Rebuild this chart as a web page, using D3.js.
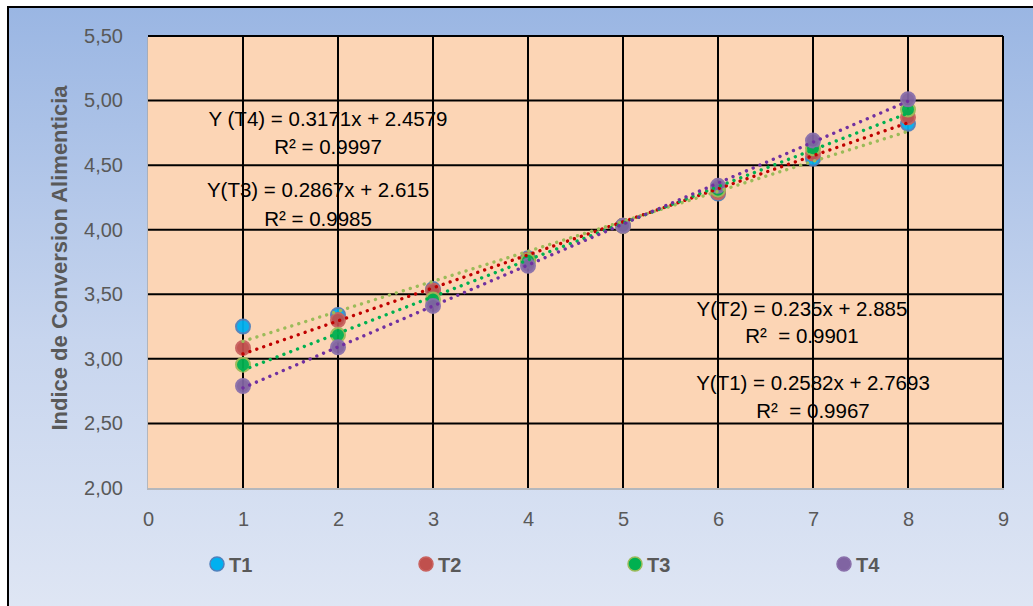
<!DOCTYPE html>
<html>
<head>
<meta charset="utf-8">
<script src="https://cdn.jsdelivr.net/npm/d3@7"></script>
<style>
  body { margin: 0; background: #fff; }
  svg { display: block; font-family: "Liberation Sans", Arial, sans-serif; }
  .eq { white-space: pre; }
</style>
</head>
<body>
<div id="chart"></div>
<script>
// data
const days = [1, 2, 3, 4, 5, 6, 7, 8];
const t1 = [3.25, 3.34, 3.54, 3.78, 4.03, 4.28, 4.55, 4.82];
const t2 = [3.085, 3.30, 3.53, 3.77, 4.03, 4.29, 4.59, 4.87];
const t3 = [2.955, 3.185, 3.46, 3.76, 4.03, 4.31, 4.63, 4.93];
const t4 = [2.79, 3.09, 3.41, 3.72, 4.03, 4.34, 4.69, 5.01];
const seriesNames = ["T1", "T2", "T3", "T4"];
const xTicks = [0, 1, 2, 3, 4, 5, 6, 7, 8, 9];
const yTicks = [2.0, 2.5, 3.0, 3.5, 4.0, 4.5, 5.0, 5.5];
const equations = [
    ["Y (T4) = 0.3171x + 2.4579", "R² = 0.9997"],
    ["Y(T3) = 0.2867x + 2.615", "R² = 0.9985"],
    ["Y(T2) = 0.235x + 2.885", "R²  = 0.9901"],
    ["Y(T1) = 0.2582x + 2.7693", "R²  = 0.9967"]
];

const W = 1033, H = 606;
const margin = {top: 36, right: 30, bottom: 118, left: 148};
const width = 1003 - margin.left;
const height = 488 - margin.top;

const colors = {
    T1: {fill: "#00B0F0", stroke: "#4F81BD", trend: "#9BBB59"},
    T2: {fill: "#C0504D", stroke: "#C9625F", trend: "#C00000"},
    T3: {fill: "#00B050", stroke: "#9BBB59", trend: "#00B050"},
    T4: {fill: "#8064A2", stroke: "#8A70AB", trend: "#7030A0"}
};

const root = d3.select("#chart").append("svg")
    .attr("width", W)
    .attr("height", H);

const defs = root.append("defs");
const grad = defs.append("linearGradient")
    .attr("id", "bg").attr("x1", 0).attr("y1", 0).attr("x2", 0).attr("y2", 1);
grad.append("stop").attr("offset", "0%").attr("stop-color", "#9AB6E3");
grad.append("stop").attr("offset", "55%").attr("stop-color", "#C7D5EE");
grad.append("stop").attr("offset", "100%").attr("stop-color", "#DFE6F4");

// chart area with black top/left border
root.append("rect")
    .attr("x", 8).attr("y", 7).attr("width", W).attr("height", H)
    .attr("fill", "url(#bg)")
    .attr("stroke", "#000").attr("stroke-width", 2);

const svg = root.append("g")
    .attr("transform", `translate(${margin.left}, ${margin.top})`);

const x = d3.scaleLinear().domain([0, 9]).range([0, width]);
const y = d3.scaleLinear().domain([2, 5.5]).range([height, 0]);

// plot area
svg.append("rect")
    .attr("x", -1).attr("y", 1).attr("width", width + 2).attr("height", height + 1)
    .attr("fill", "#A6A6A6").attr("opacity", 0.7);
svg.append("rect")
    .attr("width", width).attr("height", height)
    .attr("fill", "#FCD5B5");

// gridlines
svg.selectAll(".hgrid").data(yTicks.filter(d => d > 2))
    .enter().append("line")
    .attr("class", "hgrid")
    .attr("x1", 0).attr("x2", width)
    .attr("y1", d => y(d)).attr("y2", d => y(d))
    .attr("stroke", "#000").attr("stroke-width", 2);

svg.selectAll(".vgrid").data(xTicks.filter(d => d > 0))
    .enter().append("line")
    .attr("class", "vgrid")
    .attr("y1", 0).attr("y2", height)
    .attr("x1", d => x(d)).attr("x2", d => x(d))
    .attr("stroke", "#000").attr("stroke-width", 2);

// axes (labels only)
const fmt = d => d3.format(".2f")(d).replace(".", ",");
const yAxis = svg.append("g")
    .call(d3.axisLeft(y).tickValues(yTicks).tickFormat(fmt).tickSize(0).tickPadding(25));
const xAxis = svg.append("g")
    .attr("transform", `translate(0, ${height})`)
    .call(d3.axisBottom(x).tickValues(xTicks).tickSize(0).tickPadding(24));
[yAxis, xAxis].forEach(a => {
    a.select(".domain").remove();
    a.selectAll("text")
        .attr("font-family", "Liberation Sans, Arial, sans-serif")
        .attr("font-size", 20)
        .attr("fill", "#595959");
});

root.append("text")
    .attr("transform", "translate(67, 258) rotate(-90)")
    .attr("text-anchor", "middle")
    .attr("font-size", 22)
    .attr("font-weight", "bold")
    .attr("fill", "#595959")
    .text("Indice de Conversion Alimenticia");

const series = [t1, t2, t3, t4].map((vals, i) => ({
    name: seriesNames[i],
    points: days.map((d, j) => ({x: d, y: vals[j]}))
}));

// markers
series.forEach(s => {
    svg.selectAll(".pt-" + s.name).data(s.points)
        .enter().append("circle")
        .attr("class", "pt-" + s.name)
        .attr("cx", d => x(d.x))
        .attr("cy", d => y(d.y))
        .attr("r", 7)
        .attr("fill", colors[s.name].fill)
        .attr("stroke", colors[s.name].stroke)
        .attr("stroke-width", 2)
        .attr("opacity", 0.95);
});

// least squares trendlines
function fit(pts) {
    const mx = d3.mean(pts, p => p.x), my = d3.mean(pts, p => p.y);
    const b = d3.sum(pts, p => (p.x - mx) * (p.y - my)) / d3.sum(pts, p => (p.x - mx) ** 2);
    return {b: b, a: my - b * mx};
}
series.forEach(s => {
    const f = fit(s.points);
    const x0 = d3.min(days), x1 = d3.max(days);
    svg.append("line")
        .attr("x1", x(x0)).attr("y1", y(f.a + f.b * x0))
        .attr("x2", x(x1)).attr("y2", y(f.a + f.b * x1))
        .attr("stroke", colors[s.name].trend)
        .attr("stroke-width", 3.4)
        .attr("stroke-linecap", "round")
        .attr("stroke-dasharray", "0.01 7.3");
});

// equation labels (data coordinates)
const eqPos = [[1.895, 4.803, 4.586], [1.79, 4.253, 4.029], [6.884, 3.332, 3.123], [7.0, 2.759, 2.542]];
equations.forEach((eq, i) => {
    const p = eqPos[i];
    svg.append("text")
        .attr("class", "eq")
        .attr("x", x(p[0])).attr("y", y(p[1]))
        .attr("text-anchor", "middle").attr("font-size", 20.5).attr("fill", "#000")
        .text(eq[0]);
    svg.append("text")
        .attr("class", "eq")
        .attr("x", x(p[0])).attr("y", y(p[2]))
        .attr("text-anchor", "middle").attr("font-size", 20.5).attr("fill", "#000")
        .text(eq[1]);
});

// legend
const legendX = d3.scalePoint().domain(seriesNames).range([217, 844]);
const legend = root.selectAll(".legend").data(seriesNames)
    .enter().append("g")
    .attr("class", "legend")
    .attr("transform", d => `translate(${legendX(d)}, 564)`);
legend.append("circle")
    .attr("r", 7)
    .attr("fill", d => colors[d].fill)
    .attr("stroke", d => colors[d].stroke)
    .attr("stroke-width", 1.5);
legend.append("text")
    .attr("x", 12).attr("y", 7.5)
    .attr("font-size", 20).attr("font-weight", "bold")
    .attr("fill", "#595959")
    .text(d => d);
</script>
</body>
</html>
